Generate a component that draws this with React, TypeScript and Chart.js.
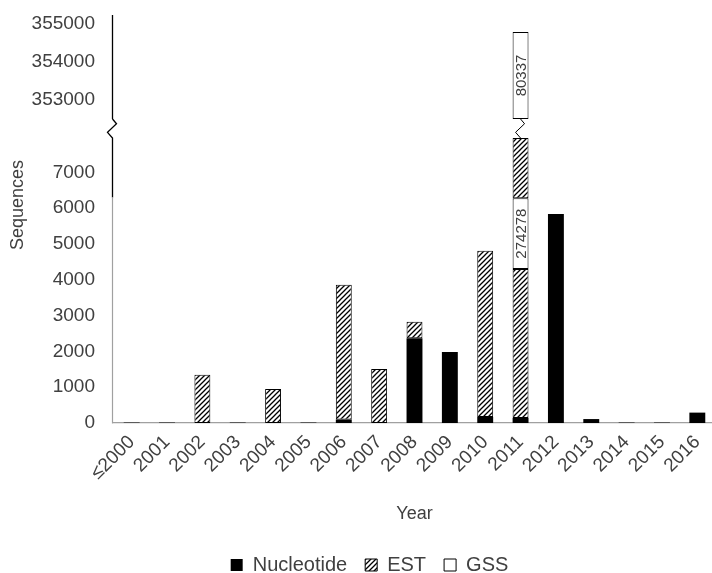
import React, { useEffect, useRef } from 'react';
import { Chart, registerables } from 'chart.js';

Chart.register(...registerables);

const years = ['≤2000', '2001', '2002', '2003', '2004', '2005', '2006', '2007', '2008', '2009', '2010', '2011', '2012', '2013', '2014', '2015', '2016'];
const nucleotide = [12, 12, 0, 12, 0, 12, 100, 0, 2370, 1980, 170, 140, 5840, 110, 12, 12, 290];
const est = [0, 0, 1350, 0, 950, 0, 3760, 1510, 460, 0, 4640, 4160, 0, 0, 0, 0, 0];
const gss = [0, 0, 0, 0, 0, 0, 0, 0, 0, 0, 0, 1980, 0, 0, 0, 0, 0];
const estContinued = [null, null, null, null, null, null, null, null, null, null, null, 1680, null, null, null, null, null];
const gssUpper = [null, null, null, null, null, null, null, null, null, null, null, [352500, 354790], null, null, null, null, null];
const gssLabels = ['', '', '', '', '', '', '', '', '', '', '', '274278', '', '', '', '', ''];
const gssUpperLabels = ['', '', '', '', '', '', '', '', '', '', '', '80337', '', '', '', '', ''];
const lowerTicks = [0, 1000, 2000, 3000, 4000, 5000, 6000, 7000];
const upperTicks = [353000, 354000, 355000];
const lowerRange = [0, 8240];
const upperRange = [352263, 355237];
const breakLow = 7960;
const breakHigh = 352500;
const blackAxisUntil = 6300;

const TEXT = '#404040';
const FONT = "'Liberation Sans', Arial, sans-serif";

function makeHatch(): CanvasPattern | string {
  const c = document.createElement('canvas');
  c.width = 5;
  c.height = 5;
  const g = c.getContext('2d');
  if (!g) return '#888';
  g.fillStyle = '#fff';
  g.fillRect(0, 0, 5, 5);
  g.strokeStyle = '#000';
  g.lineWidth = 1.3;
  g.beginPath();
  g.moveTo(-1, 6);
  g.lineTo(6, -1);
  g.moveTo(-1, 1);
  g.lineTo(1, -1);
  g.moveTo(4, 6);
  g.lineTo(6, 4);
  g.stroke();
  const p = g.createPattern(c, 'repeat');
  return p || '#888';
}

const extrasPlugin = {
  id: 'extras',
  afterDatasetsDraw(chart: any) {
    const ctx = chart.ctx;
    const area = chart.chartArea;
    const y = chart.scales.y;
    const yTop = chart.scales.yTop;
    const x = chart.scales.x;
    const yb1 = yTop.getPixelForValue(breakHigh);
    const yb2 = y.getPixelForValue(breakLow);
    const zig = (cx: number) => {
      ctx.moveTo(cx, yb1);
      ctx.lineTo(cx + 4, yb1 + (yb2 - yb1) * 0.25);
      ctx.lineTo(cx - 5, yb1 + (yb2 - yb1) * 0.7);
      ctx.lineTo(cx, yb2);
    };
    ctx.save();
    const ax = area.left - 1.5;
    ctx.strokeStyle = '#000';
    ctx.lineWidth = 1.3;
    ctx.beginPath();
    ctx.moveTo(ax, yTop.top);
    ctx.lineTo(ax, yb1);
    zig(ax);
    ctx.lineTo(ax, y.getPixelForValue(blackAxisUntil));
    ctx.stroke();
    ctx.strokeStyle = '#a0a0a0';
    ctx.lineWidth = 1.2;
    ctx.beginPath();
    ctx.moveTo(ax, y.getPixelForValue(blackAxisUntil));
    ctx.lineTo(ax, y.bottom + 0.5);
    ctx.stroke();

    ctx.strokeStyle = '#000';
    ctx.lineWidth = 1;
    gssUpper.forEach((v, i) => {
      if (v && estContinued[i] != null) {
        const cx = x.getPixelForValue(i);
        ctx.beginPath();
        zig(cx);
        ctx.stroke();
      }
    });

    ctx.fillStyle = TEXT;
    ctx.font = `15px ${FONT}`;
    ctx.textAlign = 'center';
    ctx.textBaseline = 'middle';
    const drawLabels = (dsIndex: number, labels: string[]) => {
      const meta = chart.getDatasetMeta(dsIndex);
      labels.forEach((t, i) => {
        const el = meta.data[i];
        if (!t || !el) return;
        const cy = (el.y + el.base) / 2;
        ctx.save();
        ctx.translate(el.x, cy);
        ctx.rotate(-Math.PI / 2);
        ctx.fillText(t, 0, 1);
        ctx.restore();
      });
    };
    drawLabels(2, gssLabels);
    drawLabels(4, gssUpperLabels);

    ctx.save();
    ctx.font = `18px ${FONT}`;
    ctx.fillStyle = TEXT;
    ctx.translate(18, 205);
    ctx.rotate(-Math.PI / 2);
    ctx.fillText('Sequences', 0, 0);
    ctx.restore();
    ctx.restore();
  },
};

export default function App() {
  const ref = useRef<HTMLCanvasElement>(null);
  useEffect(() => {
    if (!ref.current) return;
    const hatch = makeHatch();
    const tickFont = { family: FONT, size: 19 };
    const fitY = (s: any) => {
      s.width = 90;
      s.paddingTop = 0;
      s.paddingBottom = 0;
    };
    const chart = new Chart(ref.current, {
      type: 'bar',
      data: {
        labels: years,
        datasets: [
          { label: 'Nucleotide', data: nucleotide, backgroundColor: '#000', borderColor: '#000', borderWidth: 0, yAxisID: 'y' },
          { label: 'EST', data: est, backgroundColor: hatch as any, borderColor: '#000', borderWidth: 1, borderSkipped: false, yAxisID: 'y' },
          { label: 'GSS', data: gss, backgroundColor: '#fff', borderColor: '#000', borderWidth: 1, borderSkipped: false, yAxisID: 'y' },
          { label: 'EST (cont.)', data: estContinued as any, backgroundColor: hatch as any, borderColor: '#000', borderWidth: 1, borderSkipped: false, yAxisID: 'y' },
          { label: 'GSS (upper)', data: gssUpper as any, backgroundColor: '#fff', borderColor: '#000', borderWidth: 1, borderSkipped: false, yAxisID: 'yTop' },
        ],
      },
      options: {
        responsive: false,
        animation: false,
        devicePixelRatio: 1,
        categoryPercentage: 1,
        barPercentage: 0.45,
        layout: { padding: { top: 15, left: 24, right: 7, bottom: 0 } },
        plugins: {
          tooltip: { enabled: false },
          legend: {
            position: 'bottom',
            labels: {
              boxWidth: 12,
              boxHeight: 12,
              padding: 18,
              color: TEXT,
              font: { family: FONT, size: 20 },
              filter: (item: any) => item.datasetIndex < 3,
            },
          },
        },
        scales: {
          x: {
            stacked: true,
            grid: { display: false, drawTicks: false },
            border: { color: '#a0a0a0', width: 1.2 },
            ticks: { color: TEXT, font: tickFont, minRotation: 45, maxRotation: 45, autoSkip: false, padding: 8 },
            title: { display: true, text: 'Year', color: TEXT, font: { family: FONT, size: 18 }, padding: { top: 0, bottom: 12 } },
            afterFit: (s: any) => { s.height = 114; },
          },
          y: {
            type: 'linear',
            position: 'left',
            stack: 'v',
            stackWeight: 295,
            stacked: true,
            min: lowerRange[0],
            max: lowerRange[1],
            grid: { display: false, drawTicks: false },
            border: { display: false },
            ticks: { color: TEXT, font: tickFont, padding: 19, callback: (v: any) => String(v) },
            afterBuildTicks: (s: any) => { s.ticks = lowerTicks.map((v) => ({ value: v })); },
            afterFit: fitY,
          },
          yTop: {
            type: 'linear',
            position: 'left',
            stack: 'v',
            stackWeight: 113,
            stacked: false,
            min: upperRange[0],
            max: upperRange[1],
            grid: { display: false, drawTicks: false },
            border: { display: false },
            ticks: { color: TEXT, font: tickFont, padding: 19, callback: (v: any) => String(v) },
            afterBuildTicks: (s: any) => { s.ticks = upperTicks.map((v) => ({ value: v })); },
            afterFit: fitY,
          },
        },
      } as any,
      plugins: [extrasPlugin],
    });
    return () => chart.destroy();
  }, []);
  return (
    <div style={{ position: 'absolute', left: 0, top: 0, width: 712, height: 573, overflow: 'hidden', background: '#fff' }}>
      <canvas ref={ref} width={722} height={585} style={{ display: 'block' }} />
    </div>
  );
}
